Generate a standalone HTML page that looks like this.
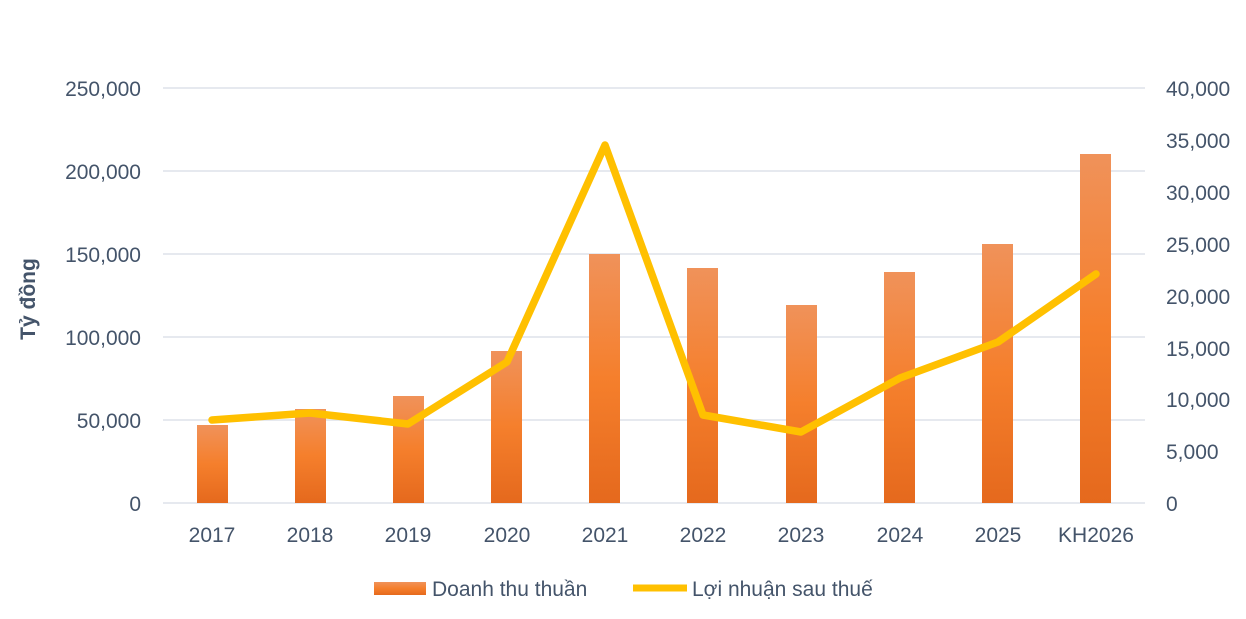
<!DOCTYPE html>
<html><head><meta charset="utf-8"><style>
body{margin:0;background:#fff;}
svg text{font-family:"Liberation Sans",sans-serif;fill:#44546a;}
</style></head><body>
<svg width="1246" height="614" viewBox="0 0 1246 614" xmlns="http://www.w3.org/2000/svg">
<defs>
<linearGradient id="g" x1="0" y1="0" x2="0" y2="1">
<stop offset="0" stop-color="#f0925a"/>
<stop offset="0.5" stop-color="#f57f2c"/>
<stop offset="1" stop-color="#e5691d"/>
</linearGradient>
</defs>
<g stroke="#dde2ea" stroke-width="1.5">
<line x1="163" y1="88" x2="1145" y2="88"/>
<line x1="163" y1="171" x2="1145" y2="171"/>
<line x1="163" y1="254" x2="1145" y2="254"/>
<line x1="163" y1="337" x2="1145" y2="337"/>
<line x1="163" y1="420" x2="1145" y2="420"/>
<line x1="163" y1="503" x2="1145" y2="503"/>
</g>
<g font-size="21" text-anchor="end">
<text x="141" y="96">250,000</text>
<text x="141" y="179">200,000</text>
<text x="141" y="262">150,000</text>
<text x="141" y="345">100,000</text>
<text x="141" y="428">50,000</text>
<text x="141" y="511">0</text>
</g>
<g font-size="21" text-anchor="start">
<text x="1166" y="96">40,000</text>
<text x="1166" y="148">35,000</text>
<text x="1166" y="200">30,000</text>
<text x="1166" y="252">25,000</text>
<text x="1166" y="304">20,000</text>
<text x="1166" y="356">15,000</text>
<text x="1166" y="407">10,000</text>
<text x="1166" y="459">5,000</text>
<text x="1166" y="511">0</text>
</g>
<text x="0" y="0" font-size="21" font-weight="bold" text-anchor="middle" transform="translate(35,299) rotate(-90)">Tỷ đồng</text>
<g fill="url(#g)">
<rect x="197" y="425" width="31" height="78"/>
<rect x="295" y="409" width="31" height="94"/>
<rect x="393" y="396" width="31" height="107"/>
<rect x="491" y="351" width="31" height="152"/>
<rect x="589" y="254" width="31" height="249"/>
<rect x="687" y="268" width="31" height="235"/>
<rect x="786" y="305" width="31" height="198"/>
<rect x="884" y="272" width="31" height="231"/>
<rect x="982" y="244" width="31" height="259"/>
<rect x="1080" y="154" width="31" height="349"/>
</g>
<polyline fill="none" stroke="#ffc000" stroke-width="7.5" stroke-linejoin="round" stroke-linecap="round"
points="212,420 310,413 408,424 507,362 605,145 703,415 801,432 900,378 998,342 1096,274"/>
<g font-size="21" text-anchor="middle">
<text x="212" y="542">2017</text>
<text x="310" y="542">2018</text>
<text x="408" y="542">2019</text>
<text x="507" y="542">2020</text>
<text x="605" y="542">2021</text>
<text x="703" y="542">2022</text>
<text x="801" y="542">2023</text>
<text x="900" y="542">2024</text>
<text x="998" y="542">2025</text>
<text x="1096" y="542">KH2026</text>
</g>
<rect x="374" y="582" width="52" height="13" fill="url(#g)"/>
<text x="432" y="596" font-size="21">Doanh thu thuần</text>
<line x1="633" y1="588" x2="687" y2="588" stroke="#ffc000" stroke-width="7"/>
<text x="692" y="596" font-size="21">Lợi nhuận sau thuế</text>
</svg>
</body></html>
